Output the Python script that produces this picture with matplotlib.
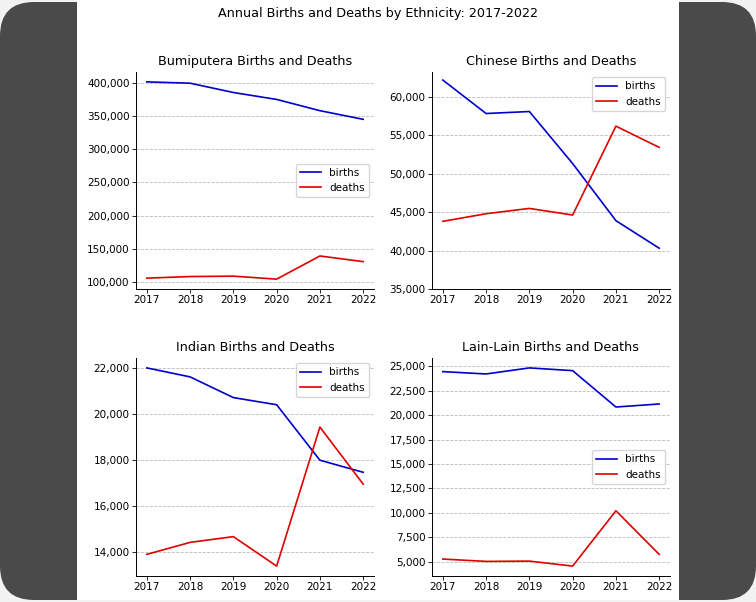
import matplotlib
matplotlib.use("Agg")
import matplotlib.pyplot as plt
from matplotlib.patches import FancyBboxPatch, Rectangle
from matplotlib.ticker import FuncFormatter

years = [2017, 2018, 2019, 2020, 2021, 2022]

bumi_births = [401000, 399000, 385000, 374600, 357700, 344700]
bumi_deaths = [106000, 108400, 109000, 104500, 139300, 130800]

chinese_births = [62150, 57800, 58060, 51300, 43880, 40300]
chinese_deaths = [43790, 44780, 45470, 44610, 56160, 53400]

indian_births = [22000, 21610, 20710, 20400, 17990, 17465]
indian_deaths = [13900, 14420, 14670, 13390, 19430, 16950]

lain_births = [24450, 24210, 24830, 24550, 20830, 21140]
lain_deaths = [5280, 5040, 5070, 4560, 10220, 5760]

titles = ["Bumiputera Births and Deaths", "Chinese Births and Deaths",
          "Indian Births and Deaths", "Lain-Lain Births and Deaths"]
suptitle = "Annual Births and Deaths by Ethnicity: 2017-2022"

W, H = 756, 602
fig = plt.figure(figsize=(W / 100, H / 100), dpi=100, facecolor="#f2f2f2")

# screenshot frame
fig.patches.append(FancyBboxPatch((0, 2 / H), 1, (H - 4) / H, boxstyle="round,pad=0,rounding_size=0.045",
                                  transform=fig.transFigure, facecolor="#4a4a4a", edgecolor="none",
                                  mutation_aspect=W / H, zorder=-3))
fig.patches.append(Rectangle((77 / W, 2 / H), (679 - 77) / W, (H - 2) / H, transform=fig.transFigure,
                             facecolor="white", edgecolor="none", zorder=-2))


def px_axes(l, t, r, b):
    return fig.add_axes([l / W, 1 - b / H, (r - l) / W, (b - t) / H])


boxes = [(136, 72, 374, 289), (432, 72, 670, 289), (136, 358, 374, 576), (432, 358, 670, 576)]
data = [(bumi_births, bumi_deaths), (chinese_births, chinese_deaths),
        (indian_births, indian_deaths), (lain_births, lain_deaths)]
legend_locs = ["center right", "upper right", "upper right", "center right"]

fmt = FuncFormatter(lambda v, p: f"{int(v):,}")

for i, (box, (b, d), title, loc) in enumerate(zip(boxes, data, titles, legend_locs)):
    ax = px_axes(*box)
    ax.patch.set_alpha(0)
    ax.plot(years, b, color="#0000cc", lw=1.2, label="births")
    ax.plot(years, d, color="#e00000", lw=1.2, label="deaths")
    ax.set_title(title, fontsize=9.2, pad=5)
    ax.yaxis.set_major_formatter(fmt)
    ax.set_xticks(years)
    ax.tick_params(labelsize=7.5, length=2.6, width=0.6, pad=2)
    for s in ["top", "right"]:
        ax.spines[s].set_visible(False)
    for s in ["left", "bottom"]:
        ax.spines[s].set_linewidth(0.7)
    ax.grid(axis="y", linestyle="--", color="#bbbbbb", linewidth=0.6)
    ax.set_axisbelow(True)
    if i == 1:
        ax.set_ylim(35000, 63195)
    ax.legend(loc=loc, fontsize=7.5, handlelength=2.0, framealpha=0.8, borderpad=0.4)

fig.text(378 / W, 1 - 14 / H, suptitle, ha="center", va="center", fontsize=9.2)

fig.savefig("out.png", dpi=100, facecolor=fig.get_facecolor())
